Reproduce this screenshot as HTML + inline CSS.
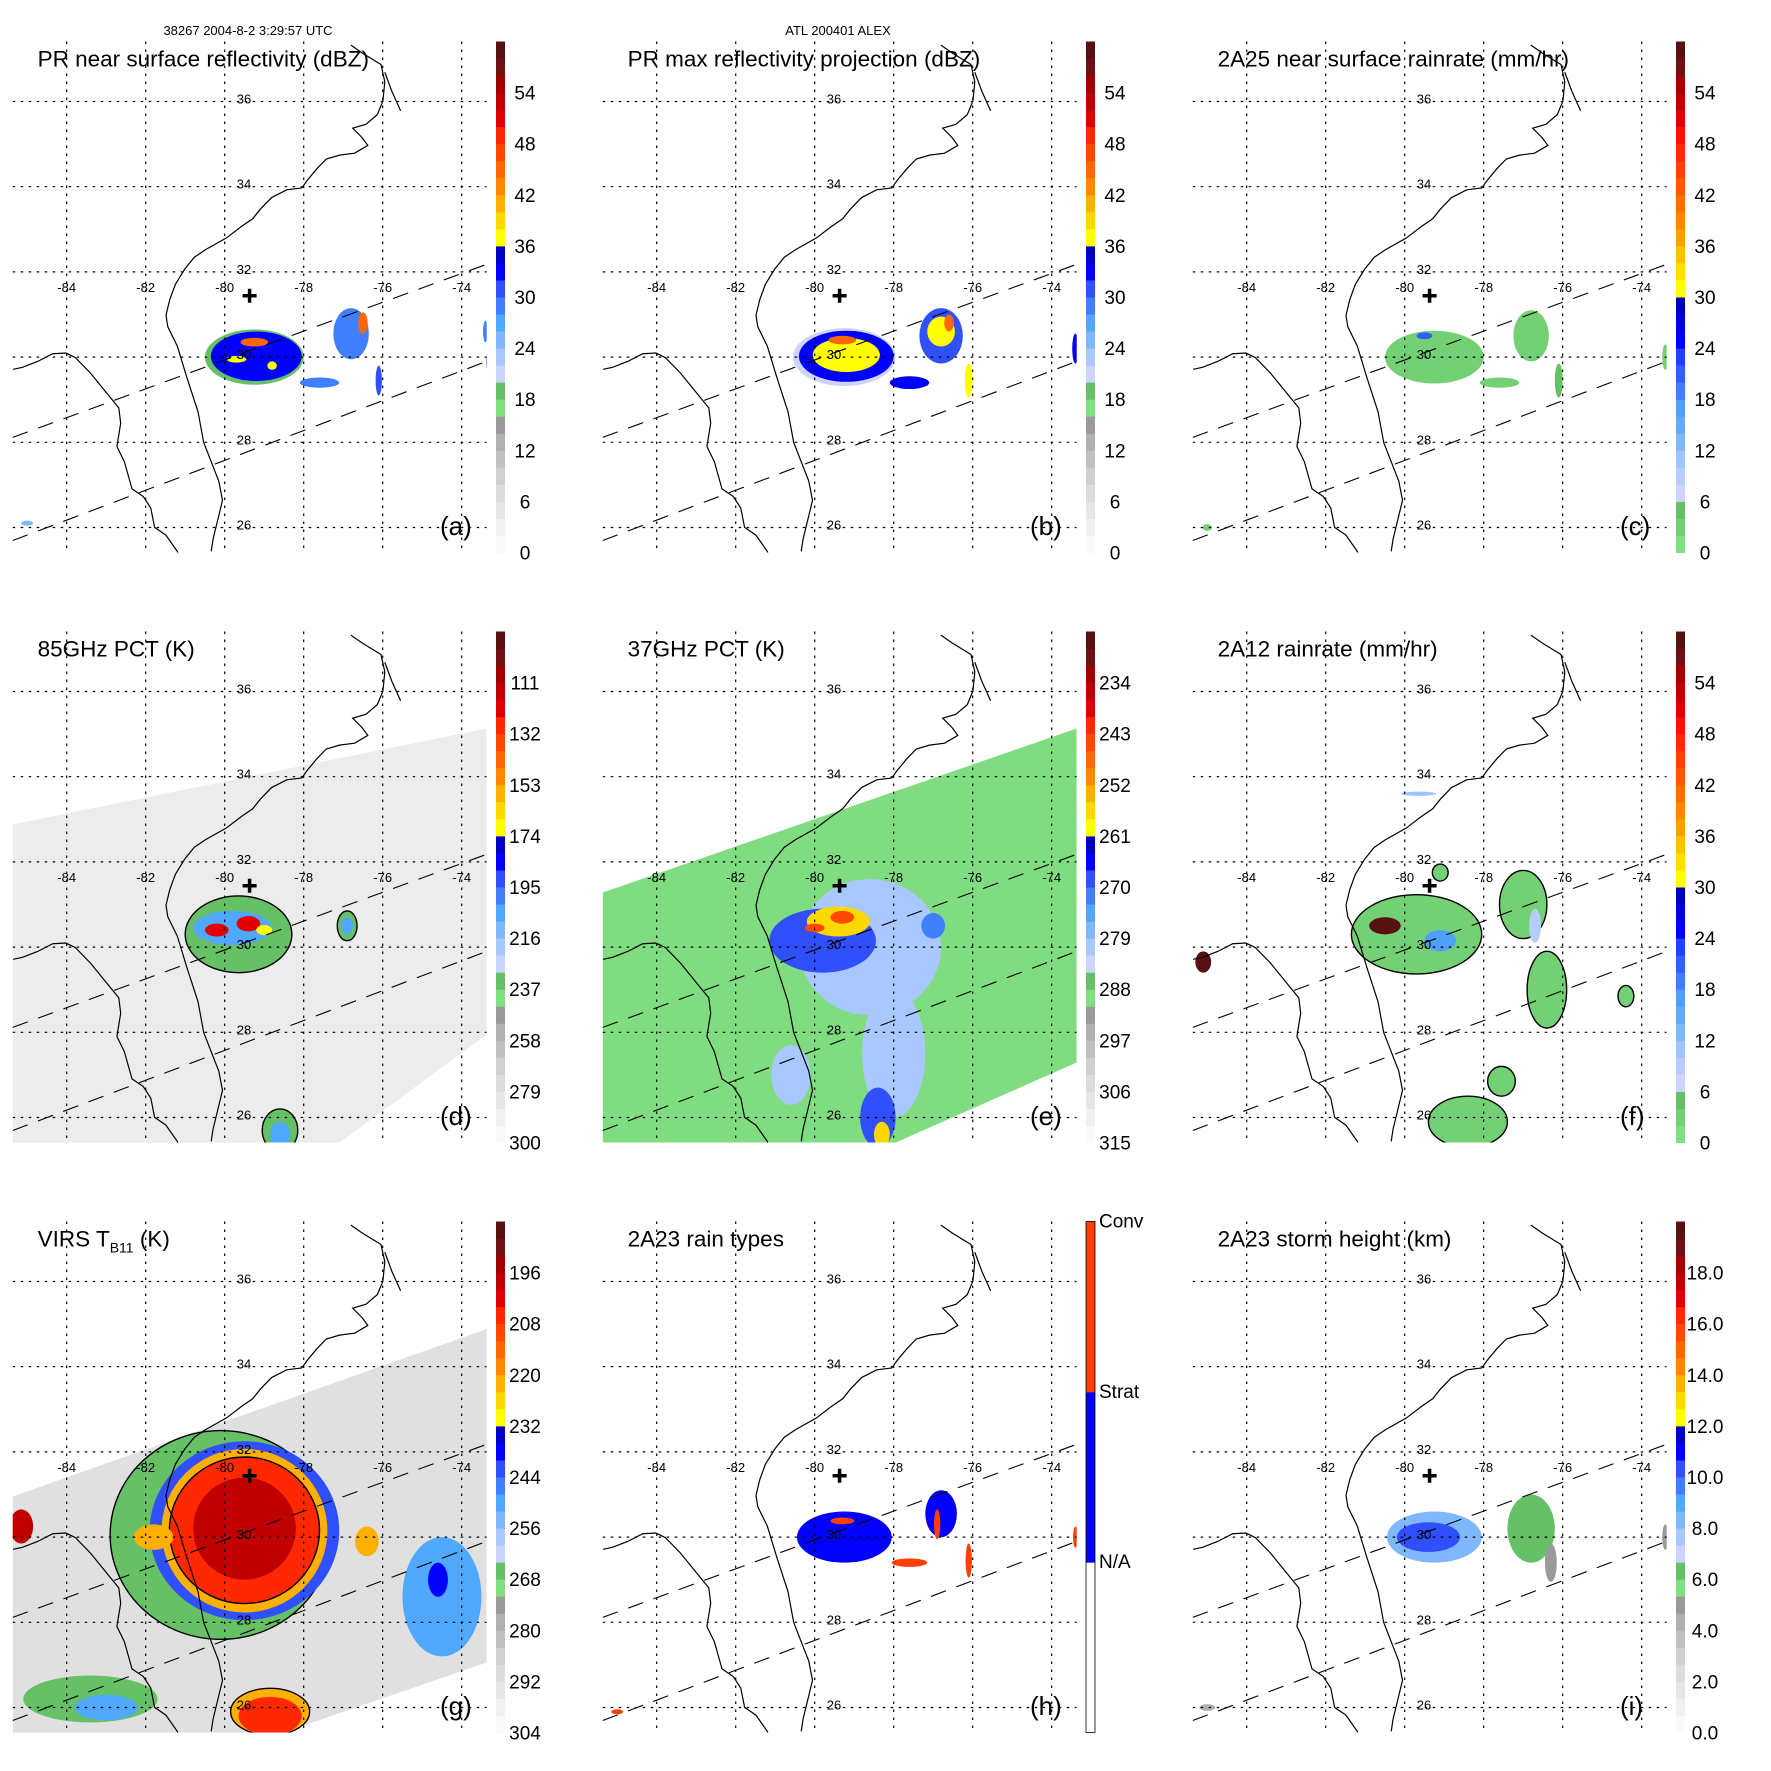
<!DOCTYPE html>
<html><head><meta charset="utf-8"><style>
html,body{margin:0;padding:0;background:#fff}
svg{display:block;font-family:"Liberation Sans",sans-serif}
</style></head><body>
<svg id="fig" xmlns="http://www.w3.org/2000/svg" width="1771" height="1771" viewBox="0 0 1771 1771">
<rect x="0" y="0" width="1771" height="1771" fill="#fff"/>
<text x="248" y="35" font-size="13" text-anchor="middle">38267 2004-8-2 3:29:57 UTC</text>
<text x="838" y="35" font-size="13" text-anchor="middle">ATL 200401 ALEX</text>
</svg>
<script>
// ---- palettes (bottom to top, 30 bins) ----
const palRefl = ['#fafafa','#f0f0f0','#e6e6e6','#dcdcdc','#d0d0d0','#c0c0c0','#b0b0b0','#9a9a9a','#80e080','#66c066','#ccd4ff','#a8c8ff','#80b8ff','#50a8ff','#4080ff','#3050ff','#0000ff','#0000c8','#ffff00','#ffd800','#ffb000','#ff8800','#ff6800','#ff4800','#ff2800','#e00000','#c00000','#a00000','#701010','#581010'];
const palRain = ['#80e080','#74d074','#66c066','#ccd4ff','#b8ccff','#a0c4ff','#80b8ff','#60acff','#50a0ff','#4080ff','#3060ff','#2040ff','#0000ff','#0000e0','#0000c0','#ffff00','#ffe000','#ffc000','#ffa000','#ff8800','#ff7000','#ff5800','#ff4000','#ff2800','#ff1000','#e00000','#c00000','#a00000','#701010','#581010'];
const palType = ['#ffffff','#0000ff','#ff4000'];

// ---- tick labels ----
const ticksRefl = ['0','6','12','18','24','30','36','42','48','54'];
const ticks85 = ['300','279','258','237','216','195','174','153','132','111'];
const ticks37 = ['315','306','297','288','279','270','261','252','243','234'];
const ticksVirs = ['304','292','280','268','256','244','232','220','208','196'];
const ticksHgt = ['0.0','2.0','4.0','6.0','8.0','10.0','12.0','14.0','16.0','18.0'];
const ticksType = ['N/A','Strat','Conv'];

// ---- data blobs: lon, lat, half-width (deg lon), half-height (deg lat), value ----
const aLon=[-79.25,-79.2,-79.7,-79.25,-78.8,-76.8,-76.5,-77.6,-76.1,-73.4,-73.3,-85.0];
const aLat=[30.0,30.02,29.95,30.35,29.8,30.55,30.8,29.4,29.45,30.6,29.9,26.1];
const aRx=[1.25,1.15,0.25,0.35,0.12,0.45,0.12,0.5,0.08,0.06,0.08,0.15];
const aRy=[0.65,0.58,0.08,0.1,0.1,0.6,0.25,0.12,0.35,0.25,0.3,0.06];
const aVal=[19,33,37,44,37,29,45,28,30,28,30,24];

const bLon=[-79.25,-79.2,-79.2,-79.3,-76.8,-76.8,-76.6,-77.6,-76.1,-73.4];
const bLat=[30.0,30.02,30.05,30.4,30.5,30.6,30.8,29.4,29.45,30.2];
const bRx=[1.3,1.2,0.85,0.35,0.55,0.35,0.12,0.5,0.1,0.08];
const bRy=[0.68,0.6,0.4,0.1,0.65,0.35,0.2,0.15,0.4,0.35];
const bVal=[20,33,37,44,30,37,45,33,37,33];

const cLon=[-79.25,-79.5,-76.8,-77.6,-76.1,-73.4,-85.0];
const cLat=[30.0,30.5,30.5,29.4,29.45,30.0,26.0];
const cRx=[1.25,0.2,0.45,0.5,0.1,0.08,0.12];
const cRy=[0.62,0.08,0.6,0.12,0.4,0.3,0.08];
const cVal=[3,20,3,3,4,3,2];

const dLon=[-79.65,-79.8,-80.2,-79.4,-79.0,-76.9,-76.9,-78.6,-78.6];
const dLat=[30.3,30.45,30.4,30.55,30.4,30.5,30.5,25.7,25.6];
const dRx=[1.35,1.0,0.3,0.3,0.2,0.25,0.15,0.45,0.25];
const dRy=[0.9,0.4,0.15,0.18,0.12,0.35,0.2,0.5,0.3];
const dVal=[236,205,125,125,170,236,205,236,205];

const eLon=[-78.6,-78.0,-80.6,-79.8,-79.4,-79.3,-80.0,-77.0,-78.4,-78.3];
const eLat=[30.0,27.5,27.0,30.15,30.6,30.7,30.45,30.5,26.0,25.6];
const eRx=[1.8,0.8,0.5,1.35,0.8,0.3,0.25,0.3,0.45,0.2];
const eRy=[1.6,1.5,0.7,0.75,0.35,0.15,0.1,0.3,0.7,0.3];
const eVal=[282,282,282,268,258,245,245,272,268,258];

const fLon=[-79.7,-77.0,-76.4,-79.1,-78.4,-77.55,-85.1,-74.4,-80.5,-79.1,-76.7,-79.65];
const fLat=[30.3,31.0,29.0,31.75,25.9,26.85,29.65,28.85,30.5,30.15,30.5,33.6];
const fRx=[1.65,0.6,0.5,0.2,1.0,0.35,0.2,0.2,0.4,0.4,0.15,0.45];
const fRy=[0.93,0.8,0.9,0.2,0.6,0.35,0.25,0.25,0.2,0.25,0.4,0.05];
const fVal=[3,3,3,3,3,3,58,3,58,16,9,10];

const gLon=[-80.1,-79.5,-79.5,-79.5,-79.5,-85.15,-78.85,-78.85,-74.5,-74.6,-83.4,-83.0,-76.4,-81.8];
const gLat=[30.05,30.15,30.15,30.16,30.2,30.25,25.9,25.8,28.6,29.0,26.2,26.0,29.9,30.0];
const gRx=[2.8,2.4,2.1,1.9,1.3,0.3,1.0,0.8,1.0,0.25,1.7,0.8,0.3,0.5];
const gRy=[2.45,2.1,1.92,1.72,1.2,0.4,0.55,0.45,1.4,0.4,0.55,0.3,0.35,0.3];
const gVal=[266,244,222,208,200,200,222,205,252,238,266,250,222,222];

const hLon=[-79.25,-79.3,-76.8,-77.6,-76.1,-76.9,-73.4,-85.0];
const hLat=[30.0,30.38,30.55,29.4,29.45,30.3,30.0,25.9];
const hRx=[1.2,0.3,0.4,0.45,0.08,0.08,0.06,0.15];
const hRy=[0.6,0.08,0.55,0.1,0.4,0.35,0.25,0.06];
const hVal=[1.5,2.5,1.5,2.5,2.5,2.5,2.5,2.5];

const iLon=[-79.25,-79.4,-76.8,-76.3,-73.4,-85.0];
const iLat=[30.0,30.0,30.2,29.4,30.0,26.0];
const iRx=[1.2,0.8,0.6,0.15,0.08,0.2];
const iRy=[0.6,0.35,0.8,0.45,0.3,0.08];
const iVal=[8.5,10.5,6.5,5,5,4];

// ---- geometry (absolute px for panel a; other panels offset) ----
const coastEast=[[211.2,533.4],[213.1,521.5],[222.5,484.5],[218.8,466],[203.7,428.9],[198,399.3],[186.7,366],[177.3,336.3],[167.8,317.8],[166,306.7],[169.7,291.9],[175.4,277],[184.8,262.3],[194.2,251.1],[205.6,243.7],[226.3,232.6],[241.4,221.5],[252.7,214.1],[260.3,204.9],[271.6,193.7],[286.7,186.3],[301.8,184.5],[307.4,177],[316.9,166],[326.3,156.7],[339.5,153],[354.6,151.1],[367.8,143.7],[362.2,136.3],[352.7,127.1],[365.9,123.4],[377.3,114.1],[382.9,101.1],[384.8,82.6],[381,66],[362.2,54.9],[350.9,47.4]];
const coastIsland=[[384.8,73.4],[392,92],[400.6,110.4]];
const coastGulf=[[13.1,358.6],[22.5,356.7],[37.6,351.1],[52.7,343.7],[65.9,343],[75.4,347.4],[90.5,362.3],[109.3,384.5],[118.8,395.6],[120.7,410.4],[116.9,432.6],[124.4,447.4],[132,473.4],[143.3,480.8],[150.8,491.9],[154.6,510.4],[165.9,517.8],[177.3,533.4],[185,555]];

const NS='http://www.w3.org/2000/svg';
const svg=document.getElementById('fig');
function mk(tag,attrs,parent){const e=document.createElementNS(NS,tag);for(const k in attrs)e.setAttribute(k,attrs[k]);(parent||svg).appendChild(e);return e;}

const W=474,H=511,STEP=590,LATS=42.6,LONS=39.5;
function X(dx,lon){return dx+66.7+(lon+84)*LONS;}
function Y(dy,lat){return dy+101.5+(36-lat)*LATS;}
function SY(y){return 101.5+(y-101.5)*LATS/40.9;}

const panels=[
 {id:'a',c:0,r:0,title:'PR near surface reflectivity (dBZ)',lon:aLon,lat:aLat,rx:aRx,ry:aRy,val:aVal,vmin:0,vmax:60,pal:palRefl,ticks:ticksRefl,swath:null},
 {id:'b',c:1,r:0,title:'PR max reflectivity projection (dBZ)',lon:bLon,lat:bLat,rx:bRx,ry:bRy,val:bVal,vmin:0,vmax:60,pal:palRefl,ticks:ticksRefl,swath:null},
 {id:'c',c:2,r:0,title:'2A25 near surface rainrate (mm/hr)',lon:cLon,lat:cLat,rx:cRx,ry:cRy,val:cVal,vmin:0,vmax:60,pal:palRain,ticks:ticksRefl,swath:null},
 {id:'d',c:0,r:1,title:'85GHz PCT (K)',lon:dLon,lat:dLat,rx:dRx,ry:dRy,val:dVal,vmin:300,vmax:90,pal:palRefl,ticks:ticks85,swath:[[0,193],[474,97],[474,403],[327,511],[0,511]],sw:'#ececec'},
 {id:'e',c:1,r:1,title:'37GHz PCT (K)',lon:eLon,lat:eLat,rx:eRx,ry:eRy,val:eVal,vmin:315,vmax:225,pal:palRefl,ticks:ticks37,swath:[[0,261],[474,97],[474,431],[293,511],[0,511]],sw:'#80dc80'},
 {id:'f',c:2,r:1,title:'2A12 rainrate (mm/hr)',lon:fLon,lat:fLat,rx:fRx,ry:fRy,val:fVal,vmin:0,vmax:60,pal:palRain,ticks:ticksRefl,swath:null},
 {id:'g',c:0,r:2,title:'VIRS',lon:gLon,lat:gLat,rx:gRx,ry:gRy,val:gVal,vmin:304,vmax:184,pal:palRefl,ticks:ticksVirs,swath:[[0,275],[474,107.5],[474,441],[270.6,511],[0,511]],sw:'#e0e0e0'},
 {id:'h',c:1,r:2,title:'2A23 rain types',lon:hLon,lat:hLat,rx:hRx,ry:hRy,val:hVal,vmin:0,vmax:3,pal:palType,ticks:null,swath:null},
 {id:'i',c:2,r:2,title:'2A23 storm height (km)',lon:iLon,lat:iLat,rx:iRx,ry:iRy,val:iVal,vmin:0,vmax:20,pal:palRefl,ticks:ticksHgt,swath:null}
];
const outlined={d:[0,5,7],f:[0,1,2,3,4,5,7],g:[0,3,6]};

function colorOf(p,v){let f=(v-p.vmin)/(p.vmax-p.vmin);let i=Math.floor(f*p.pal.length);i=Math.max(0,Math.min(p.pal.length-1,i));return p.pal[i];}

panels.forEach(p=>{
  const dx=p.c*STEP,dy=p.r*STEP,ox=12.7+dx,oy=41.5+dy;
  const g=mk('g',{});
  
  
  const cp=mk('clipPath',{id:'clip'+p.id},g);
  mk('rect',{x:ox,y:oy,width:W,height:H},cp);
  const mg=mk('g',{'clip-path':'url(#clip'+p.id+')'},g);
  if(p.swath){
    const sp=mk('polygon',{points:p.swath.map(q=>(ox+q[0])+','+(oy+q[1])).join(' '),fill:p.sw},mg);
    
    
  }
  const ol=outlined[p.id]||[];
  for(let k=0;k<p.lon.length;k++){
    const e=mk('ellipse',{cx:X(dx,p.lon[k]),cy:Y(dy,p.lat[k]),rx:p.rx[k]*LONS,ry:p.ry[k]*LATS,fill:colorOf(p,p.val[k]),stroke:ol.includes(k)?'#000':'none','stroke-width':1.4},mg);
    
    
  }
  for(let lon=-84;lon<=-74;lon+=2){const x=X(dx,lon);mk('line',{x1:x,y1:oy,x2:x,y2:oy+H,stroke:'#000','stroke-width':1.2,'stroke-dasharray':'2.5,5.5'},mg);
    const t=mk('text',{x:x,y:dy+292,'font-size':13,'text-anchor':'middle'},g);t.textContent=String(lon);}
  for(let lat=26;lat<=36;lat+=2){const y=Y(dy,lat);mk('line',{x1:ox,y1:y,x2:ox+W,y2:y,stroke:'#000','stroke-width':1.2,'stroke-dasharray':'2.5,5.5'},mg);
    const t=mk('text',{x:dx+244,y:y+2,'font-size':13,'text-anchor':'middle'},g);t.textContent=String(lat);}
  [coastEast,coastIsland,coastGulf].forEach(c=>{const pl=mk('polyline',{points:c.map(q=>(q[0]+dx)+','+(SY(q[1])+dy)).join(' '),fill:'none',stroke:'#000','stroke-width':1.2},mg);});
  [[424,257.8],[523,351]].forEach(s=>{const l=mk('line',{x1:ox,y1:SY(s[0])+dy,x2:ox+W,y2:SY(s[1])+dy,stroke:'#000','stroke-width':1.1,'stroke-dasharray':'16,11'},mg);});
  const cx=X(dx,-79.37),cy=Y(dy,31.44);
  const cr=mk('path',{d:`M${cx-7},${cy}H${cx+7}M${cx},${cy-7}V${cy+7}`,stroke:'#000','stroke-width':3.5},g);
  
  const tt=mk('text',{x:dx+37.6,y:dy+66.7,'font-size':22.5},g);
  
  if(p.id==='g'){tt.innerHTML='VIRS T<tspan font-size="14" dy="6">B11</tspan><tspan dy="-6"> (K)</tspan>';}else tt.textContent=p.title;
  const lt=mk('text',{x:dx+440,y:dy+535,'font-size':26},g);lt.textContent='('+p.id+')';
  
  const bx=dx+496,n=p.pal.length,sh=H/n;
  const cb=mk('g',{},g);
  for(let k=0;k<n;k++){mk('rect',{x:bx,y:oy+H-(k+1)*sh,width:9,height:sh+0.5,fill:p.pal[k]},cb);}
  if(p.id==='h')mk('rect',{x:bx,y:oy,width:9,height:H,fill:'none',stroke:'#000','stroke-width':0.8},cb);
  if(p.ticks){p.ticks.forEach((lab,k)=>{const t=mk('text',{x:dx+525,y:oy+H-k*H/10+7,'font-size':19,'text-anchor':'middle'},cb);t.textContent=lab;});}
  else{ticksType.forEach((lab,k)=>{const t=mk('text',{x:bx+13,y:oy+H-(k+1)*H/3+6,'font-size':19},cb);t.textContent=lab;});}
});
</script>
</body></html>
